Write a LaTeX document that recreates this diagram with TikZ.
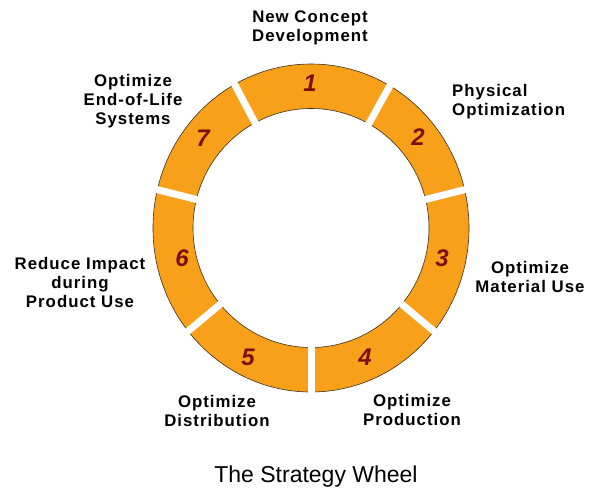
\documentclass[tikz,border=0pt]{standalone}
\usepackage{fontspec}
\setmainfont{Liberation Sans}
\newfontfamily\labfont[LetterSpace=6]{Liberation Sans}
\usetikzlibrary{calc}
\definecolor{ringorange}{HTML}{F9A01A}
\definecolor{numred}{HTML}{7A1010}
\definecolor{rimline}{HTML}{3A3020}
\begin{document}
\begin{tikzpicture}[x=1pt,y=-1pt,
  lab/.style={align=center,inner sep=0pt,font=\labfont\bfseries\fontsize{16.8}{19}\selectfont},
  num/.style={inner sep=0pt,text=numred,font=\bfseries\itshape\fontsize{24}{24}\selectfont},
  gap/.style={white,line width=7pt}]
\useasboundingbox (0,0) rectangle (590,491);
\coordinate (c) at (311,228);
% ring body
\fill[ringorange,even odd rule] (c) ellipse [x radius=158,y radius=164]
  (c) ellipse [x radius=118,y radius=119.5];
\draw[rimline,line width=0.6pt] (c) ellipse [x radius=158,y radius=164];
\draw[rimline,line width=0.6pt] (c) ellipse [x radius=118,y radius=119.5];
% cuts between the seven segments
\foreach \a in {14,61,118,166,220,270,320}
  \draw[gap] ($(c)+(\a:108pt)$) -- ($(c)+(\a:172pt)$);
% segment numbers
\node[num] (n1) at (310,83) {1};
\node[num] (n2) at (418,137) {2};
\node[num] (n3) at (442,258) {3};
\node[num] (n4) at (365,357) {4};
\node[num] (n5) at (248,357) {5};
\node[num] (n6) at (182,258) {6};
\node[num] (n7) at (203,138) {7};
% stage labels
\node[lab] (l1) at (310,28) {New Concept\\Development};
\node[lab,anchor=west,align=left] (l2) at (452,102) {Physical\\Optimization};
\node[lab] (l3) at (530,277) {Optimize\\Material Use};
\node[lab] (l4) at (412,410) {Optimize\\Production};
\node[lab] (l5) at (217,411) {Optimize\\Distribution};
\node[lab] (l6) at (80,282) {Reduce Impact\\during\\Product Use};
\node[lab] (l7) at (133,101) {Optimize\\End-of-Life\\Systems};
% caption
\node[inner sep=0pt,font=\fontsize{23}{23}\selectfont] (cap) at (316,477) {The Strategy Wheel};
\end{tikzpicture}
\end{document}
